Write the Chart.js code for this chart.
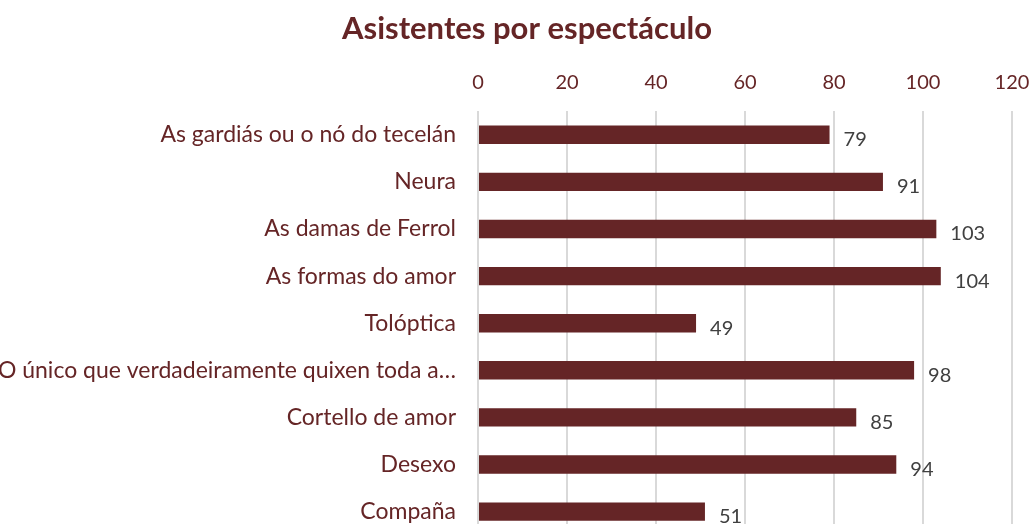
<!DOCTYPE html>
<html>
<head>
<meta charset="utf-8">
<script src="https://cdn.jsdelivr.net/npm/chart.js@4"></script>
<style>
  html, body { margin: 0; padding: 0; background: #fff; overflow: hidden; }
  #wrap { position: relative; width: 1033px; height: 563px; }
</style>
</head>
<body>
<div id="wrap"><canvas id="chart"></canvas></div>
<script>
const shows = [
  'As gardiás ou o nó do tecelán',
  'Neura',
  'As damas de Ferrol',
  'As formas do amor',
  'Tolóptica',
  'O único que verdadeiramente quixen toda a…',
  'Cortello de amor',
  'Desexo',
  'Compaña'
];
const attendees = [79, 91, 103, 104, 49, 98, 85, 94, 51];
const xTicks = [0, 20, 40, 60, 80, 100, 120];

const FONT = 'Lato, "Open Sans", sans-serif';
const RED = '#652526';

// numbers to the right of each bar
const valueLabels = {
  id: 'valueLabels',
  afterDatasetsDraw(chart) {
    const ctx = chart.ctx;
    const meta = chart.getDatasetMeta(0);
    ctx.save();
    ctx.font = '20px ' + FONT;
    ctx.fillStyle = '#404040';
    ctx.textAlign = 'left';
    ctx.textBaseline = 'middle';
    meta.data.forEach((bar, i) => {
      ctx.fillText(String(attendees[i]), bar.x + 14, bar.y + 5);
    });
    ctx.restore();
  }
};

new Chart(document.getElementById('chart'), {
  type: 'bar',
  data: {
    labels: shows,
    datasets: [{
      label: 'Asistentes',
      data: attendees,
      backgroundColor: RED,
      categoryPercentage: 1,
      barPercentage: 0.39
    }]
  },
  options: {
    indexAxis: 'y',
    responsive: true,
    maintainAspectRatio: false,
    animation: false,
    // negative right padding pushes the title centre to the right
    layout: { padding: { left: 0, right: -21, top: 8, bottom: 0 } },
    plugins: {
      legend: { display: false },
      tooltip: { enabled: false },
      title: {
        display: true,
        text: 'Asistentes por espectáculo',
        color: RED,
        font: { family: FONT, size: 31, weight: 'bold' },
        padding: { top: 2, bottom: 6 }
      }
    },
    scales: {
      x: {
        position: 'top',
        min: 0,
        max: 120,
        afterBuildTicks: (scale) => { scale.ticks = xTicks.map(v => ({ value: v })); },
        afterFit: (scale) => { scale.paddingLeft = 0; scale.paddingRight = 21; },
        grid: { color: '#d9d9d9', lineWidth: 2, drawTicks: false },
        border: { display: false },
        ticks: {
          color: RED,
          padding: 17,
          font: { family: FONT, size: 20 }
        }
      },
      y: {
        grid: { display: false },
        border: { display: false },
        afterFit: (scale) => { scale.width = 478; },
        ticks: {
          color: RED,
          padding: 14,
          font: { family: FONT, size: 23 }
        }
      }
    }
  },
  plugins: [valueLabels]
});
</script>
</body>
</html>
